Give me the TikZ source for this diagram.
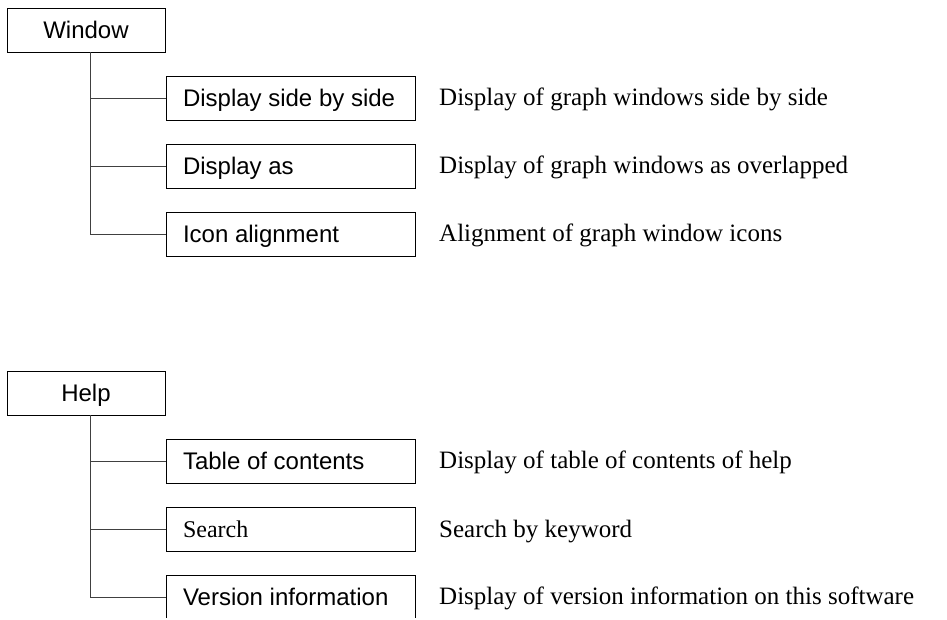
\documentclass[tikz,border=0pt]{standalone}
\usepackage{fontspec}
\setmainfont{Liberation Serif}
\setsansfont{Liberation Sans}
\newcommand{\itemtext}[1]{\makebox[215pt][l]{#1}}
\begin{document}
\begin{tikzpicture}[x=1pt,y=-1pt,
  box/.style={draw=black, line width=1pt, inner sep=0pt, minimum height=44pt,
    text height=16pt, text depth=0pt, font=\sffamily\fontsize{24}{28}\selectfont},
  head/.style={box, minimum width=158pt},
  item/.style={box, minimum width=249pt, inner xsep=17pt},
  desc/.style={anchor=west, inner sep=0pt, text height=15pt, text depth=0pt,
    font=\rmfamily\fontsize{25}{30}\selectfont},
  link/.style={draw=black!75, line width=1pt}]
\path[use as bounding box] (0,0) rectangle (947,619);
\clip (0,0) rectangle (947,617.5);
% Window menu
\node[head] (win) at (86,30) {Window};
\node[item] (w1) at (290.5,98) {\itemtext{Display side by side}};
\node[item] (w2) at (290.5,166) {\itemtext{Display as}};
\node[item] (w3) at (290.5,234) {\itemtext{Icon alignment}};
\node[desc] (dw1) at (439,98) {Display of graph windows side by side};
\node[desc] (dw2) at (439,166) {Display of graph windows as overlapped};
\node[desc] (dw3) at (439,234) {Alignment of graph window icons};
\coordinate (ws) at (90,52);
\draw[link] (ws) -- (ws |- w3.west) -- (w3.west);
\draw[link] (ws |- w1.west) -- (w1.west);
\draw[link] (ws |- w2.west) -- (w2.west);
% Help menu
\node[head] (help) at (86,393) {Help};
\node[item] (h1) at (290.5,461) {\itemtext{Table of contents}};
\node[item, font=\rmfamily\fontsize{24}{28}\selectfont] (h2) at (290.5,529.5) {\itemtext{Search}};
\node[item] (h3) at (290.5,597) {\itemtext{Version information}};
\node[desc] (dh1) at (439,461) {Display of table of contents of help};
\node[desc] (dh2) at (439,529.5) {Search by keyword};
\node[desc] (dh3) at (439,597) {Display of version information on this software};
\coordinate (hs) at (90,415);
\draw[link] (hs) -- (hs |- h3.west) -- (h3.west);
\draw[link] (hs |- h1.west) -- (h1.west);
\draw[link] (hs |- h2.west) -- (h2.west);
\end{tikzpicture}
\end{document}
